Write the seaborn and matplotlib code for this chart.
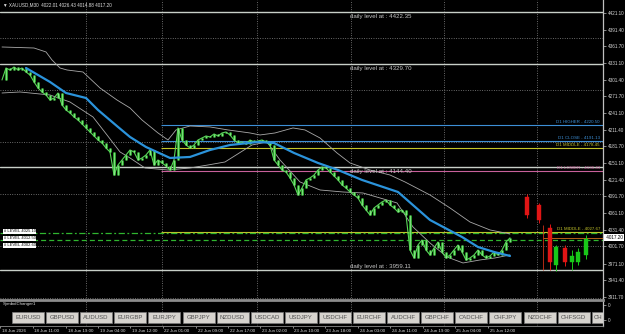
import matplotlib
matplotlib.use("Agg")
import matplotlib.pyplot as plt
import matplotlib.transforms as mtrans
from matplotlib.patches import Rectangle
import seaborn as sns

# ---------------- data ----------------
closes = [4300.8, 4322.3, 4318.7, 4324.1, 4318.7, 4322.3, 4315.1, 4309.7, 4297.2, 4286.4,
          4279.2, 4273.8, 4264.8, 4268.4, 4277.4, 4255.9, 4246.9, 4241.5, 4234.3, 4228.9,
          4221.7, 4214.6, 4207.4, 4200.2, 4193.0, 4187.6, 4178.6, 4171.5, 4130.1, 4148.1,
          4157.1, 4166.1, 4175.0, 4171.5, 4157.1, 4160.7, 4166.1, 4175.0, 4148.1, 4157.1,
          4151.7, 4146.3, 4139.1, 4157.1, 4214.6, 4193.0, 4184.0, 4178.6, 4184.0, 4193.0,
          4196.6, 4200.2, 4198.4, 4203.8, 4200.2, 4205.6, 4207.4, 4202.0, 4193.0, 4187.6,
          4189.4, 4185.8, 4193.0, 4189.4, 4191.2, 4193.0, 4189.4, 4184.0, 4157.1, 4148.1,
          4139.1, 4135.5, 4124.8, 4112.2, 4094.2, 4106.8, 4121.2, 4124.8, 4130.1, 4139.1,
          4144.5, 4142.7, 4135.5, 4128.3, 4121.2, 4112.2, 4106.8, 4099.6, 4094.2, 4088.8,
          4076.3, 4067.3, 4058.3, 4070.9, 4076.3, 4081.7, 4085.2, 4076.3, 4070.9, 4063.7,
          4067.3, 4058.3, 3995.4, 3981.1, 4004.4, 4013.4, 3995.4, 3986.5, 3999.0, 4009.8,
          3991.9, 3981.1, 3986.5, 3995.4, 4004.4, 3991.9, 3977.5, 3981.1, 3986.5, 3995.4,
          3986.5, 3981.1, 3984.7, 3991.9, 3986.5, 3995.4, 4009.8, 4017.2]

ma_x = [6, 12, 16, 21, 24, 29, 32, 36, 42, 47, 52, 57, 64, 68, 73, 79, 84, 90, 99, 107, 115, 119, 123, 127]
ma_y = [4322.3, 4297.2, 4277.4, 4268.4, 4246.9, 4216.4, 4198.4, 4180.4, 4160.7, 4162.5, 4175.0, 4184.0,
        4189.4, 4187.6, 4169.7, 4151.7, 4139.1, 4121.2, 4099.6, 4049.3, 4018.8, 4000.8, 3991.9, 3984.7]

upper_x = [0, 8, 11, 12.5, 14.5, 16.25, 20.25, 24.5, 28.75, 32, 35, 39, 41.5, 43.5, 47, 52, 56.5, 62,
           64.5, 68.25, 72.75, 75.75, 79.5, 83.75, 87, 92, 97, 100.75, 107, 112, 117, 122, 127]
upper_y = [4360.0, 4358.2, 4351.1, 4336.7, 4322.3, 4318.7, 4315.1, 4286.4, 4264.8, 4250.5, 4228.9,
           4205.6, 4193.0, 4211.0, 4218.1, 4216.4, 4211.0, 4205.6, 4202.0, 4205.6, 4214.6, 4211.0,
           4196.6, 4169.7, 4151.7, 4139.1, 4130.1, 4117.6, 4094.2, 4070.9, 4045.7, 4031.4, 4024.2]

lower_x = [0, 4.5, 12, 17, 22.75, 26.25, 29.5, 32, 35.75, 41.5, 47, 51.5, 55.75, 62.5, 66.25, 69.5,
           74.5, 79.5, 85.25, 90.25, 98.75, 102.75, 107, 111.25, 115.25, 119.5, 123.25, 127]
lower_y = [4277.4, 4279.2, 4273.8, 4261.2, 4234.3, 4202.0, 4171.5, 4160.7, 4142.7, 4139.1, 4142.7,
           4148.1, 4153.5, 4184.0, 4189.4, 4157.1, 4117.6, 4103.2, 4099.6, 4097.8, 4079.9, 4036.8,
           4008.0, 3982.9, 3972.1, 3977.5, 3981.1, 3986.5]

d1_pos = [131.25, 134.25, 137, 138.5, 140.75, 142.5, 144, 146]
d1_open = [4090.6, 4076.3, 4034.9, 3968.5, 3999.0, 3973.9, 3973.9, 3986.5]
d1_high = [4096.0, 4079.9, 4042.1, 4004.4, 4004.4, 3995.4, 3999.0, 4022.4]
d1_low = [4052.9, 4043.9, 3959.5, 3957.7, 3966.7, 3959.5, 3968.5, 3979.3]
d1_close = [4058.3, 4049.3, 3973.9, 4000.8, 3973.9, 3984.7, 3991.9, 4015.2]

daily_levels = [4422.35, 4329.70, 4144.40, 3959.11]
d1_names = ["D1 HIGHER", "D1 CLOSE", "D1 MIDDLE", "D1 LOWER", "D1 MIDDLE"]
d1_values = [4220.50, 4191.13, 4178.45, 4136.43, 4027.67]
d1_colors = ["#3d8fd6", "#3d8fd6", "#c4c42a", "#c8609a", "#c4c42a"]
green_levels = [4025.1, 4012.5]
left_tags = ["# LEVEL 4025.10", "# LEVEL 4012.50", "# LEVEL 4002.60"]
left_tag_y = [4029.0, 4016.5, 4004.0]

price_ticks = [4421.10, 4391.40, 4361.70, 4331.10, 4301.40, 4271.70, 4241.10, 4211.40, 4181.70,
               4151.10, 4121.40, 4091.70, 4061.10, 4031.40, 4001.70, 3971.10, 3941.40, 3911.70]
last_price = 4017.20
grid_prices = [4376.2, 4282.8, 4189.4, 4096.0, 4002.6, 3909.2]
grid_idx = [21, 40, 63.75, 87.25, 110.5, 133.75]

time_idx = [-0.5, 7.75, 16, 24, 32, 40.25, 48.5, 56.5, 64.5, 72.75, 80.75, 89, 97, 105.25, 113.25, 121.5]
time_labels = ["18 Jun 2026", "18 Jun 11:00", "18 Jun 19:00", "19 Jun 04:00", "19 Jun 12:00",
               "22 Jun 01:00", "22 Jun 09:00", "22 Jun 17:00", "23 Jun 02:00", "23 Jun 10:00",
               "23 Jun 18:00", "24 Jun 03:00", "24 Jun 11:00", "24 Jun 19:00", "25 Jun 04:00",
               "25 Jun 12:00"]
buttons = ["EURUSD", "GBPUSD", "AUDUSD", "EURGBP", "EURJPY", "GBPJPY", "NZDUSD", "USDCAD", "USDJPY",
           "USDCHF", "EURCHF", "AUDCHF", "GBPCHF", "CADCHF", "CHFJPY", "NZDCHF", "CHFSGD", "CH"]
header = "\u25bc XAUUSD,M30  4022.01 4026.43 4014.88 4017.20"

# ---------------- styling ----------------
sns.set_theme(style="dark", rc={"axes.facecolor": "black", "figure.facecolor": "black"})
plt.rcParams["font.family"] = ["Liberation Sans", "DejaVu Sans"]

W, H = 625, 334
fig = plt.figure(figsize=(W / 100, H / 100), dpi=100, facecolor="black")
ax = fig.add_axes([0, 1 - 300 / H, 603 / W, 300 / H])
axs = fig.add_axes([0, 1 - 326 / H, 603 / W, 26 / H], sharex=ax)

def px2idx(px):
    return (px - 2) / 4.0

XMAX = px2idx(603)
ax.set_xlim(-0.5, XMAX)
ax.set_ylim(3905.6, 4444.4)
for a in (ax, axs):
    a.set_facecolor("black")
    for s in a.spines.values():
        s.set_visible(False)
    a.spines["right"].set_visible(True)
    a.spines["right"].set_color("#c0c0c0")
    a.spines["right"].set_linewidth(0.9)
    a.grid(False)

# grid
dot = (0, (1.2, 2.2))
for gp in grid_prices:
    ax.axhline(gp, color="#a8a8a8", lw=0.5, ls=dot, zorder=1)
for gx in grid_idx:
    ax.axvline(gx, color="#a8a8a8", lw=0.5, ls=dot, zorder=1)
    axs.axvline(gx, color="#a8a8a8", lw=0.5, ls=dot, zorder=1)

# daily levels
for i, lv in enumerate(daily_levels):
    ax.axhline(lv, color="#c8cfc8", lw=1.0, zorder=2)
    if i < 3:
        tr = mtrans.offset_copy(ax.transData, fig=fig, x=0, y=-2, units="dots")
        ax.text(px2idx(350), lv, f"daily level at : {lv:.2f}", color="#c8c8c8", fontsize=4.4,
                va="top", ha="left", transform=tr, zorder=6)
    else:
        tr = mtrans.offset_copy(ax.transData, fig=fig, x=0, y=1, units="dots")
        ax.text(px2idx(350), lv, f"daily level at : {lv:.2f}", color="#c8c8c8", fontsize=4.4,
                va="bottom", ha="left", transform=tr, zorder=6)

# D1 lines
d1_start = px2idx(161)
for name, val, col in zip(d1_names, d1_values, d1_colors):
    ax.hlines(val, d1_start, XMAX, color=col, lw=0.8, zorder=2)
    tr = mtrans.offset_copy(ax.get_yaxis_transform(), fig=fig, x=-3, y=1, units="dots")
    ax.text(1.0, val, f"{name} - {val:.2f}", color=col, fontsize=3.2, ha="right", va="bottom",
            transform=tr, zorder=6)

# green pivot lines
ax.axhline(green_levels[0], color="#2fb52f", lw=0.9, ls=(0, (5, 2, 1.5, 2)), zorder=2)
ax.axhline(green_levels[1], color="#2fb52f", lw=0.9, ls=(0, (4, 2.5)), zorder=2)
for t, yv in zip(left_tags, left_tag_y):
    ax.text(0.4, yv, t, color="black", fontsize=3.0, ha="left", va="center", zorder=7,
            bbox=dict(boxstyle="square,pad=0.15", fc="white", ec="none"))

# bands and MA
sns.lineplot(x=upper_x, y=upper_y, ax=ax, color="#a9a9a9", lw=0.6, zorder=3)
sns.lineplot(x=lower_x, y=lower_y, ax=ax, color="#a9a9a9", lw=0.6, zorder=3)

# price bars
idx = list(range(len(closes)))
opens = [closes[0]] + closes[:-1]
lo = [min(o, c) for o, c in zip(opens, closes)]
hi = [max(o, c) for o, c in zip(opens, closes)]
ax.vlines(idx, lo, hi, color="#34c234", lw=1.9, zorder=4)
sns.lineplot(x=idx, y=closes, ax=ax, color="#5ad65a", lw=0.8, zorder=4)
ax.vlines(idx, lo, hi, color="#b8f0b8", lw=0.4, zorder=4)

sns.lineplot(x=ma_x, y=ma_y, ax=ax, color="#2b93db", lw=1.6, zorder=5)

# D1 candles
for p, o, h, l, c in zip(d1_pos, d1_open, d1_high, d1_low, d1_close):
    col = "#19c819" if c > o else "#e01515"
    ax.vlines(p, l, h, color=col, lw=0.7, zorder=5)
    ax.add_patch(Rectangle((p - 0.6, min(o, c)), 1.2, abs(c - o), fc=col, ec=col, lw=0.3, zorder=5))

# current price marks
ax.hlines(last_price, px2idx(543), XMAX, color="#d0701c", lw=0.6, zorder=4)
ax.vlines(px2idx(543), d1_low[2], d1_open[2] + 6, color="#d03018", lw=0.6, zorder=4)

# header
ax.text(0.005, 1 - 5 / 300, header, transform=ax.transAxes, color="#e0e0e0", fontsize=3.3,
        ha="left", va="center", zorder=7)

# right axis
ax.yaxis.tick_right()
ax.set_yticks(price_ticks)
ax.set_yticklabels([f"{v:.2f}" for v in price_ticks])
ax.tick_params(axis="y", colors="#c0c0c0", labelcolor="#d8d8d8", labelsize=3.3, length=2,
               width=0.5, pad=1.2, right=True, left=False)
ax.tick_params(axis="x", bottom=False, labelbottom=False)
ax.text(1.0, last_price, f" {last_price:.2f}", transform=mtrans.offset_copy(
    ax.get_yaxis_transform(), fig=fig, x=2, y=0, units="dots"),
    color="black", fontsize=3.3, ha="left", va="center", zorder=8,
    bbox=dict(boxstyle="square,pad=0.2", fc="white", ec="none"))
ax.set_xlabel("")
ax.set_ylabel("")

# sub window
axs.set_ylim(0, 1)
axs.spines["top"].set_visible(True)
axs.spines["top"].set_color("#8c8c8c")
axs.spines["top"].set_linewidth(2.0)
axs.spines["bottom"].set_visible(True)
axs.spines["bottom"].set_color("#8c8c8c")
axs.spines["bottom"].set_linewidth(0.6)
axs.yaxis.tick_right()
axs.set_yticks([0.81, 0.23])
axs.set_yticklabels(["0", "0"])
axs.tick_params(axis="y", colors="#c0c0c0", labelcolor="#d8d8d8", labelsize=3.3, length=2,
                width=0.5, pad=1.2)
axs.text(0.005, 0.84, "SymbolChanger1", transform=axs.transAxes, color="#e0e0e0", fontsize=3.2,
         ha="left", va="center")
for k, b in enumerate(buttons):
    left_px = 12 + 34.1 * k
    x0 = px2idx(left_px)
    r = Rectangle((x0, 0.12), 32 / 4.0, 0.43, fc="#d6d3ce", ec="#7a7a7a", lw=0.5, zorder=3,
                  clip_on=True)
    axs.add_patch(r)
    if k < len(buttons) - 1:
        axs.text(x0 + 16 / 4.0, 0.335, b, color="#505050", fontsize=4.3, ha="center",
                 va="center", zorder=4)
    else:
        axs.text(x0 + 0.6, 0.335, b, color="#505050", fontsize=4.3, ha="left",
                 va="center", zorder=4)

axs.set_xticks(time_idx)
axs.set_xticklabels(time_labels)
axs.tick_params(axis="x", colors="#c0c0c0", labelcolor="#d8d8d8", labelsize=3.2, length=1.5,
                width=0.5, pad=0.3, bottom=True)
off = mtrans.ScaledTranslation(1.5 / 100, 0, fig.dpi_scale_trans)
for lab in axs.get_xticklabels():
    lab.set_horizontalalignment("left")
    lab.set_transform(lab.get_transform() + off)
axs.set_xlabel("")
axs.set_ylabel("")

fig.savefig("out.png", dpi=100, facecolor="black")
